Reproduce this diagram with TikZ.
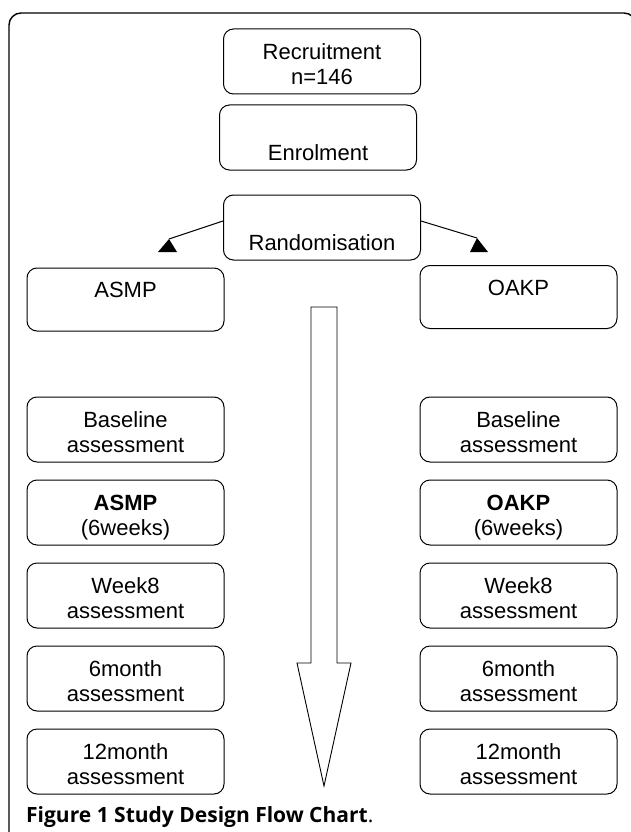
\documentclass[tikz,border=0pt]{standalone}
\usepackage{fontspec}
\setmainfont{Liberation Sans}
\newfontfamily\capfont{Open Sans}
\usetikzlibrary{positioning}

\newcommand{\topgap}{\rule{0pt}{28pt}}

\begin{document}
\begin{tikzpicture}[
      x=1pt, y=-1pt,
      node distance=17pt,
      stage/.style={
          rectangle,
          draw,
          rounded corners=10pt,
          align=center,
          line width=1pt,
          minimum width=197pt,
          minimum height=65pt,
          inner sep=0pt,
          font=\fontsize{22}{24.5}\selectfont
        },
      link/.style={
          line width=1pt
        },
      head/.style={
          fill=black
        }
    ]
    \useasboundingbox (0,0) rectangle (630,832);

    % Frame
    \draw[line width=1.4pt, rounded corners=12pt] (9,13) rectangle (636,900);

    % Top
    \node[stage] (recruit) at (322,61.5) {\topgap Recruitment\\\strut n=146};
    \node[stage, below=10pt of recruit, xshift=-4pt] (enrol) {\topgap\\\strut Enrolment};
    \node[stage, below=24pt of enrol, xshift=4pt] (rand) {\topgap\\\strut Randomisation};

    % Groups
    \node[stage, minimum height=63pt] (asmp) at (125.5,299.5) {\topgap ASMP\\\strut};
    \node[stage, minimum height=63pt] (oakp) at (518.5,297) {\topgap OAKP\\\strut};

    % Branch 1: ASMP
    \node[stage] (base_l) at (125.5,429.5) {\topgap Baseline\\\strut assessment};
    \node[stage, below=of base_l] (prog_l) {\topgap\textbf{ASMP}\\\strut(6weeks)};
    \node[stage, below=of prog_l] (wk8_l) {\topgap Week8\\\strut assessment};
    \node[stage, below=of wk8_l] (m6_l) {\topgap 6month\\\strut assessment};
    \node[stage, below=of m6_l] (m12_l) {\topgap 12month\\\strut assessment};

    % Branch 2: OAKP
    \node[stage] (base_r) at (518.5,429.5) {\topgap Baseline\\\strut assessment};
    \node[stage, below=of base_r] (prog_r) {\topgap\textbf{OAKP}\\\strut(6weeks)};
    \node[stage, below=of prog_r] (wk8_r) {\topgap Week8\\\strut assessment};
    \node[stage, below=of wk8_r] (m6_r) {\topgap 6month\\\strut assessment};
    \node[stage, below=of m6_r] (m12_r) {\topgap 12month\\\strut assessment};

    % Arrows
    \coordinate (tip_l) at (169,239);
    \coordinate (tip_r) at (477,238);
    \draw[link] ([yshift=6.5pt]rand.west) -- (tip_l);
    \draw[link] ([yshift=6.5pt]rand.east) -- (tip_r);
    \fill[head] (tip_l) -- (158,252) -- (177,252) -- cycle;
    \fill[head] (tip_r) -- (470,252) -- (488,252) -- cycle;

    % Time arrow
    \draw[line width=0.9pt, line join=miter]
      (311,307) -- (337,307) -- (337,663) -- (351,663) -- (324,786)
      -- (297,663) -- (311,663) -- cycle;

    % Caption
    \node[anchor=west, inner sep=0pt, font=\capfont\fontsize{21}{24}\selectfont] (caption) at (26,817)
      {\textbf{Figure 1 Study Design Flow Chart}.};
  \end{tikzpicture}
\end{document}
